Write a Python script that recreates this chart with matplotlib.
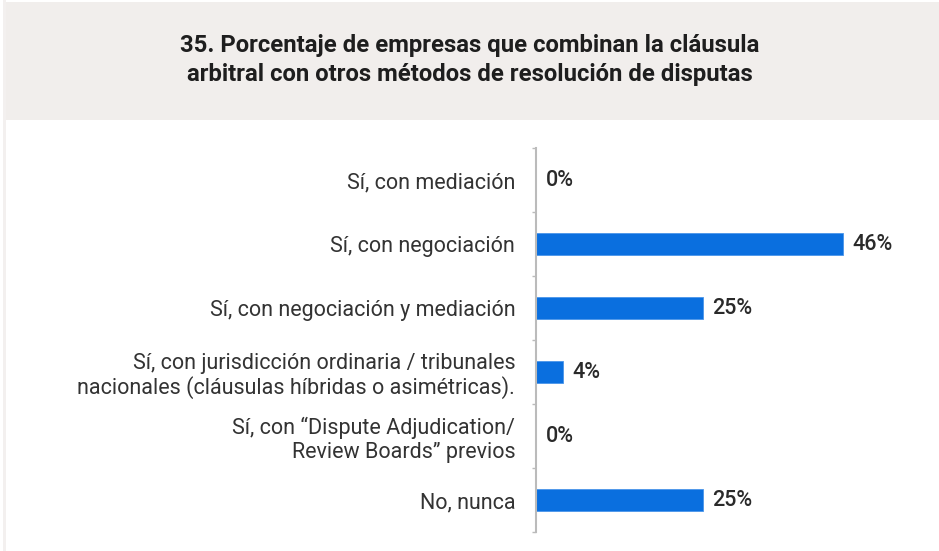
import matplotlib
matplotlib.use("Agg")
import matplotlib.pyplot as plt
from matplotlib.patches import Rectangle

plt.rcParams['font.family'] = ['Roboto', 'DejaVu Sans']

titulo = "35. Porcentaje de empresas que combinan la cláusula\narbitral con otros métodos de resolución de disputas"
categorias = [
    "Sí, con mediación",
    "Sí, con negociación",
    "Sí, con negociación y mediación",
    "Sí, con jurisdicción ordinaria / tribunales\nnacionales (cláusulas híbridas o asimétricas).",
    "Sí, con \u201cDispute Adjudication/\nReview Boards\u201d previos",
    "No, nunca",
]
valores = [0, 46, 25, 4, 0, 25]

W, H = 939, 551
fig = plt.figure(figsize=(W / 100, H / 100), dpi=100)
fig.patch.set_facecolor('white')

# header box
fig.patches.append(Rectangle((3 / W, 1 - 120 / H), 1, 118 / H, transform=fig.transFigure,
                             facecolor='#f1eeec', edgecolor='none', zorder=0))
fig.patches.append(Rectangle((3 / W, 0), 3 / W, 1, transform=fig.transFigure,
                             facecolor='#f3f0ef', edgecolor='none', zorder=0))
fig.text(470 / W, 1 - 60 / H, titulo, ha='center', va='center', fontsize=17.2,
         fontweight='bold', color='#1e1e1e', linespacing=1.38)

ax = fig.add_axes([536 / W, 1 - 532 / H, 380 / W, 384 / H])
ax.set_facecolor('none')
y = list(range(len(categorias)))
ax.barh(y, valores, height=0.35, color='#0a6fdf', edgecolor='#4a95ea', linewidth=0.6)
ax.set_ylim(len(categorias) - 0.5, -0.5)
ax.set_xlim(0, 46 * 380 / 307)

ax.set_yticks(y)
ax.set_yticklabels(categorias, fontsize=15.5, color='#333333', linespacing=1.15)
ax.tick_params(axis='y', which='major', length=0, pad=15)
ax.set_yticks([i - 0.5 for i in range(len(categorias) + 1)], minor=True)
ax.tick_params(axis='y', which='minor', length=3, width=1, color='#bbbbbb')
ax.set_xticks([])
for s in ['top', 'right', 'bottom']:
    ax.spines[s].set_visible(False)
ax.spines['left'].set_color('#bbbbbb')
ax.spines['left'].set_linewidth(1.5)

for yi, v in zip(y, valores):
    ax.annotate(f"{v}%", (v, yi), xytext=(7, 0), textcoords='offset points',
                ha='left', va='center', fontsize=15.5, fontweight='medium', color='#2a2a2a')

fig.savefig('out.png', dpi=100)
